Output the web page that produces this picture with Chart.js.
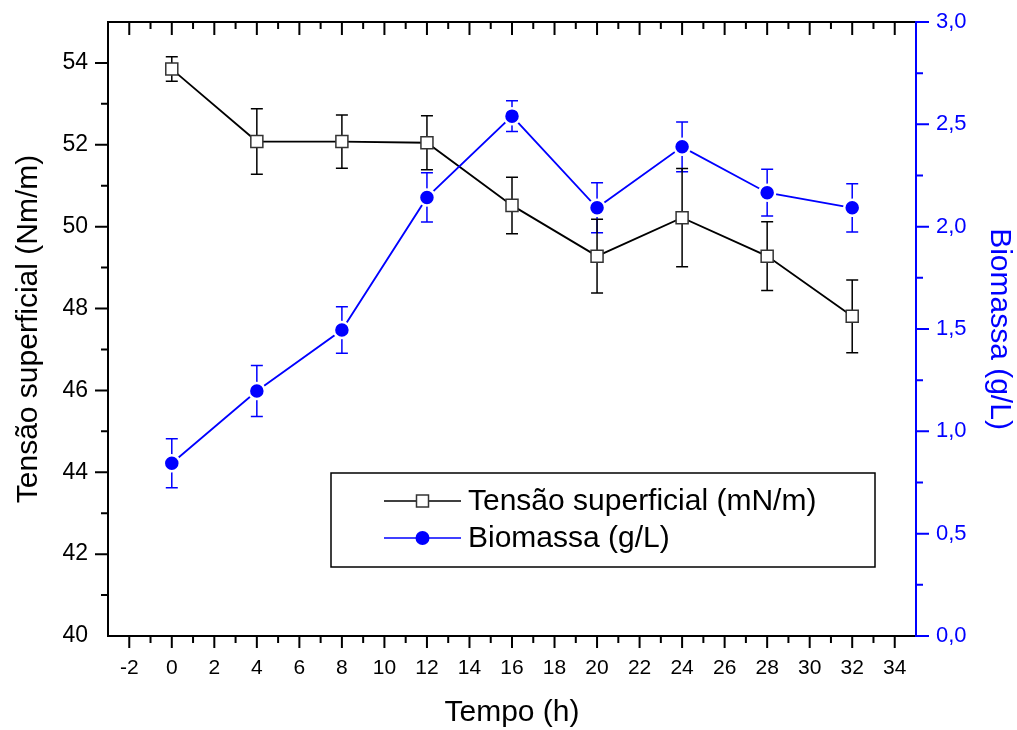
<!DOCTYPE html>
<html lang="pt">
<head>
<meta charset="UTF-8">
<title>Tensão superficial e Biomassa</title>
<script src="https://cdn.jsdelivr.net/npm/chart.js"></script>
<style>
  html, body { margin: 0; padding: 0; background: #fff; }
  #wrap { width: 1017px; height: 730px; position: relative; }
</style>
</head>
<body>
<div id="wrap"><canvas id="chart"></canvas></div>
<script>
// tempo (h)
const tempo = [0, 4, 8, 12, 16, 20, 24, 28, 32];
// tensao superficial (mN/m) e desvio
const tensao = [53.85, 52.08, 52.08, 52.05, 50.52, 49.28, 50.22, 49.28, 47.81];
const tensaoErr = [0.30, 0.80, 0.65, 0.66, 0.69, 0.90, 1.20, 0.84, 0.89];
// biomassa (g/L) e desvio
const biomassa = [0.844, 1.197, 1.495, 2.143, 2.540, 2.092, 2.390, 2.166, 2.092];
const biomassaErr = [0.120, 0.125, 0.114, 0.120, 0.075, 0.122, 0.122, 0.114, 0.118];

const xTicks = [-2, 0, 2, 4, 6, 8, 10, 12, 14, 16, 18, 20, 22, 24, 26, 28, 30, 32, 34];
const yTicks = [40, 42, 44, 46, 48, 50, 52, 54];
const y2Ticks = [0, 0.5, 1, 1.5, 2, 2.5, 3];

const BLUE = '#0000ff';
const FONT = "'Liberation Sans', Arial, sans-serif";

// error bars, drawn under the lines and markers
const errorBars = {
  id: 'errorBars',
  beforeDatasetsDraw(chart) {
    const ctx = chart.ctx;
    const xs = chart.scales.x;
    chart.data.datasets.forEach(ds => {
      const ys = chart.scales[ds.yAxisID];
      ctx.save();
      ctx.strokeStyle = ds.borderColor;
      ctx.lineWidth = 1.5;
      ds.data.forEach((p, j) => {
        const e = ds.err[j];
        const px = xs.getPixelForValue(p.x);
        const top = ys.getPixelForValue(p.y + e);
        const bot = ys.getPixelForValue(p.y - e);
        ctx.beginPath();
        ctx.moveTo(px, top); ctx.lineTo(px, bot);
        ctx.moveTo(px - 6, top); ctx.lineTo(px + 6, top);
        ctx.moveTo(px - 6, bot); ctx.lineTo(px + 6, bot);
        ctx.stroke();
      });
      ctx.restore();
    });
  }
};

// frame, major/minor ticks (top ticks point inward) and legend box
const frame = {
  id: 'frame',
  afterDraw(chart) {
    const ctx = chart.ctx;
    const {left, right, top, bottom} = chart.chartArea;
    const xs = chart.scales.x, y = chart.scales.y, y2 = chart.scales.y2;
    ctx.save();
    ctx.lineWidth = 2;
    ctx.strokeStyle = '#000';
    ctx.beginPath();
    for (let v = Math.ceil(xs.min); v <= xs.max; v++) {
      const px = xs.getPixelForValue(v);
      if (px <= left + 1 || px >= right - 1) continue;
      const major = v % 2 === 0;
      ctx.moveTo(px, bottom); ctx.lineTo(px, bottom + (major ? 12 : 7));
      ctx.moveTo(px, top); ctx.lineTo(px, top + (major ? 13 : 7));
    }
    for (let v = Math.ceil(y.min); v <= y.max; v++) {
      const py = y.getPixelForValue(v);
      if (py <= top + 1 || py >= bottom - 1) continue;
      const major = v % 2 === 0;
      ctx.moveTo(left, py); ctx.lineTo(left - (major ? 13 : 7), py);
    }
    ctx.stroke();
    ctx.beginPath();
    ctx.moveTo(right, top); ctx.lineTo(left, top); ctx.lineTo(left, bottom); ctx.lineTo(right, bottom);
    ctx.stroke();

    ctx.strokeStyle = BLUE;
    ctx.beginPath();
    ctx.moveTo(right, top - 1); ctx.lineTo(right, bottom + 1);
    for (let k = 0; k <= 12; k++) {
      const py = y2.getPixelForValue(k * 0.25);
      const major = k % 2 === 0;
      ctx.moveTo(right, py); ctx.lineTo(right + (major ? 13 : 7), py);
    }
    ctx.stroke();

    // legend
    const lx = left + 223, ly = top + 451, lw = 544, lh = 94;
    ctx.strokeStyle = '#000';
    ctx.lineWidth = 1.5;
    ctx.strokeRect(lx, ly, lw, lh);
    const rows = [
      {ds: chart.data.datasets[1], y: ly + 28},
      {ds: chart.data.datasets[0], y: ly + 65}
    ];
    ctx.font = '30px ' + FONT;
    ctx.textBaseline = 'middle';
    rows.forEach(r => {
      const x0 = lx + 53, x1 = lx + 130, xm = (x0 + x1) / 2;
      ctx.strokeStyle = r.ds.borderColor;
      ctx.lineWidth = 1.5;
      ctx.beginPath(); ctx.moveTo(x0, r.y); ctx.lineTo(x1, r.y); ctx.stroke();
      if (r.ds.pointStyle === 'rect') {
        ctx.fillStyle = '#fff';
        ctx.fillRect(xm - 6, r.y - 6, 12, 12);
        ctx.strokeStyle = '#333';
        ctx.strokeRect(xm - 6, r.y - 6, 12, 12);
      } else {
        ctx.fillStyle = BLUE;
        ctx.beginPath(); ctx.arc(xm, r.y, 7, 0, Math.PI * 2); ctx.fill();
      }
      ctx.fillStyle = '#000';
      ctx.fillText(r.ds.label, x1 + 7, r.y + 1);
    });
    ctx.restore();
  }
};

function noPad(s) {
  s.paddingTop = 0; s.paddingBottom = 0; s.paddingLeft = 0; s.paddingRight = 0;
}

new Chart(document.getElementById('chart'), {
  type: 'scatter',
  data: {
    datasets: [
      {
        label: 'Biomassa (g/L)',
        data: tempo.map((t, i) => ({x: t, y: biomassa[i]})),
        err: biomassaErr,
        yAxisID: 'y2',
        showLine: true,
        borderColor: BLUE,
        borderWidth: 1.8,
        pointStyle: 'circle',
        pointRadius: 8,
        pointBorderWidth: 2.5,
        pointBackgroundColor: BLUE,
        pointBorderColor: '#fff',
        order: 0
      },
      {
        label: 'Tensão superficial (mN/m)',
        data: tempo.map((t, i) => ({x: t, y: tensao[i]})),
        err: tensaoErr,
        yAxisID: 'y',
        showLine: true,
        borderColor: '#000',
        borderWidth: 1.8,
        pointStyle: 'rect',
        pointRadius: 8.5,
        pointBorderWidth: 1.5,
        pointBackgroundColor: '#fff',
        pointBorderColor: '#333',
        order: 1
      }
    ]
  },
  options: {
    responsive: true,
    maintainAspectRatio: false,
    animation: false,
    layout: {padding: {top: 22, left: 0, right: 0, bottom: 0}},
    plugins: {legend: {display: false}, tooltip: {enabled: false}},
    scales: {
      x: {
        type: 'linear',
        min: -3, max: 35,
        afterBuildTicks: s => { s.ticks = xTicks.map(v => ({value: v})); },
        afterFit: s => { s.height = 94; noPad(s); },
        grid: {display: false, drawTicks: false},
        border: {display: false},
        ticks: {padding: 20, color: '#000', font: {family: FONT, size: 21}, maxRotation: 0, autoSkip: false},
        title: {display: true, text: 'Tempo (h)', color: '#000', font: {family: FONT, size: 30, lineHeight: 1}, padding: {top: 0, bottom: 2}}
      },
      y: {
        type: 'linear',
        position: 'left',
        min: 40, max: 55,
        afterBuildTicks: s => { s.ticks = yTicks.map(v => ({value: v})); },
        afterFit: s => { s.width = 108; noPad(s); },
        grid: {display: false, drawTicks: false},
        border: {display: false},
        ticks: {padding: 20, color: '#000', font: {family: FONT, size: 23}},
        title: {display: true, text: 'Tensão superficial (Nm/m)', color: '#000', font: {family: FONT, size: 30, lineHeight: 1}, padding: {top: 14, bottom: 0}}
      },
      y2: {
        type: 'linear',
        position: 'right',
        min: 0, max: 3,
        afterBuildTicks: s => { s.ticks = y2Ticks.map(v => ({value: v})); },
        afterFit: s => { s.width = 101; noPad(s); },
        grid: {display: false, drawTicks: false},
        border: {display: false},
        ticks: {padding: 20, color: BLUE, font: {family: FONT, size: 22}, callback: v => v.toFixed(1).replace('.', ',')},
        title: {display: true, text: 'Biomassa (g/L)', color: BLUE, font: {family: FONT, size: 30, lineHeight: 1}, padding: {top: 3, bottom: 0}}
      }
    }
  },
  plugins: [errorBars, frame]
});
</script>
</body>
</html>
